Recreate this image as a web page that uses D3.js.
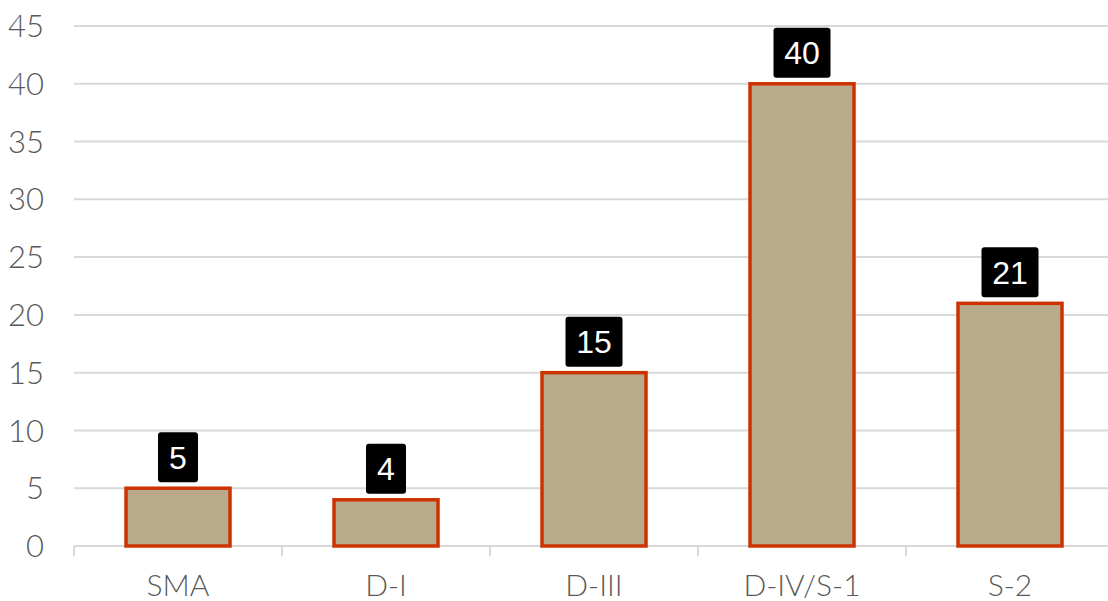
<!DOCTYPE html>
<html>
<head>
<meta charset="utf-8">
<script src="https://cdn.jsdelivr.net/npm/d3@7"></script>
<style>
  body { margin: 0; background: #fff; }
  svg { display: block; }
</style>
</head>
<body>
<script>
const categories = ['SMA', 'D-I', 'D-III', 'D-IV/S-1', 'S-2'];
const values = [5, 4, 15, 40, 21];
const yTicks = [0, 5, 10, 15, 20, 25, 30, 35, 40, 45];

const width = 1108, height = 601;
const margin = { top: 26, right: 0, bottom: 55, left: 74 };

const svg = d3.select('body').append('svg')
	.attr('width', width)
	.attr('height', height);

const x = d3.scaleBand()
	.domain(categories)
	.range([margin.left, margin.left + 208 * categories.length])
	.paddingInner(0)
	.paddingOuter(0);

const y = d3.scaleLinear()
	.domain([0, 45])
	.range([height - margin.bottom, margin.top]);

// gridlines
svg.append('g')
	.selectAll('line')
	.data(yTicks)
	.join('line')
	.attr('x1', margin.left)
	.attr('x2', width)
	.attr('y1', d => y(d))
	.attr('y2', d => y(d))
	.attr('stroke', '#d9d9d9')
	.attr('stroke-width', 2);

// y labels
svg.append('g')
	.selectAll('text')
	.data(yTicks)
	.join('text')
	.attr('x', 44)
	.attr('y', d => y(d))
	.attr('dy', '0.36em')
	.attr('text-anchor', 'end')
	.attr('fill', '#595959')
	.style('font-family', 'Lato, "Open Sans", sans-serif')
	.style('font-weight', 300)
	.style('font-size', '31px')
	.text(d => d);

// x axis tick marks (band boundaries)
const bounds = categories.map(c => x(c)).concat([x(categories[categories.length - 1]) + x.bandwidth()]);
svg.append('g')
	.selectAll('line')
	.data(bounds)
	.join('line')
	.attr('x1', d => d)
	.attr('x2', d => d)
	.attr('y1', y(0))
	.attr('y2', y(0) + 10)
	.attr('stroke', '#d9d9d9')
	.attr('stroke-width', 2);

// x labels
svg.append('g')
	.selectAll('text')
	.data(categories)
	.join('text')
	.attr('x', d => x(d) + x.bandwidth() / 2)
	.attr('y', 596)
	.attr('text-anchor', 'middle')
	.attr('fill', '#595959')
	.style('font-family', 'Lato, "Open Sans", sans-serif')
	.style('font-weight', 300)
	.style('font-size', '30px')
	.text(d => d);

const barW = 104;

// bars
svg.append('g')
	.selectAll('rect')
	.data(values)
	.join('rect')
	.attr('x', (d, i) => x(categories[i]) + (x.bandwidth() - barW) / 2)
	.attr('y', d => y(d))
	.attr('width', barW)
	.attr('height', d => y(0) - y(d))
	.attr('fill', '#b8aa8a')
	.attr('stroke', '#cc3300')
	.attr('stroke-width', 3.5);

// data labels
const lbl = svg.append('g')
	.selectAll('g')
	.data(values)
	.join('g')
	.attr('transform', (d, i) => `translate(${x(categories[i]) + x.bandwidth() / 2},${y(d) - 31})`);

lbl.append('rect')
	.attr('x', d => -(String(d).length * 8.5 + 11.5))
	.attr('y', -25)
	.attr('width', d => 2 * (String(d).length * 8.5 + 11.5))
	.attr('height', 50)
	.attr('rx', 3)
	.attr('fill', '#000');

lbl.append('text')
	.attr('text-anchor', 'middle')
	.attr('dy', '0.36em')
	.attr('fill', '#fff')
	.style('font-family', '"Liberation Sans", Arial, sans-serif')
	.style('font-size', '32px')
	.text(d => d);
</script>
</body>
</html>
